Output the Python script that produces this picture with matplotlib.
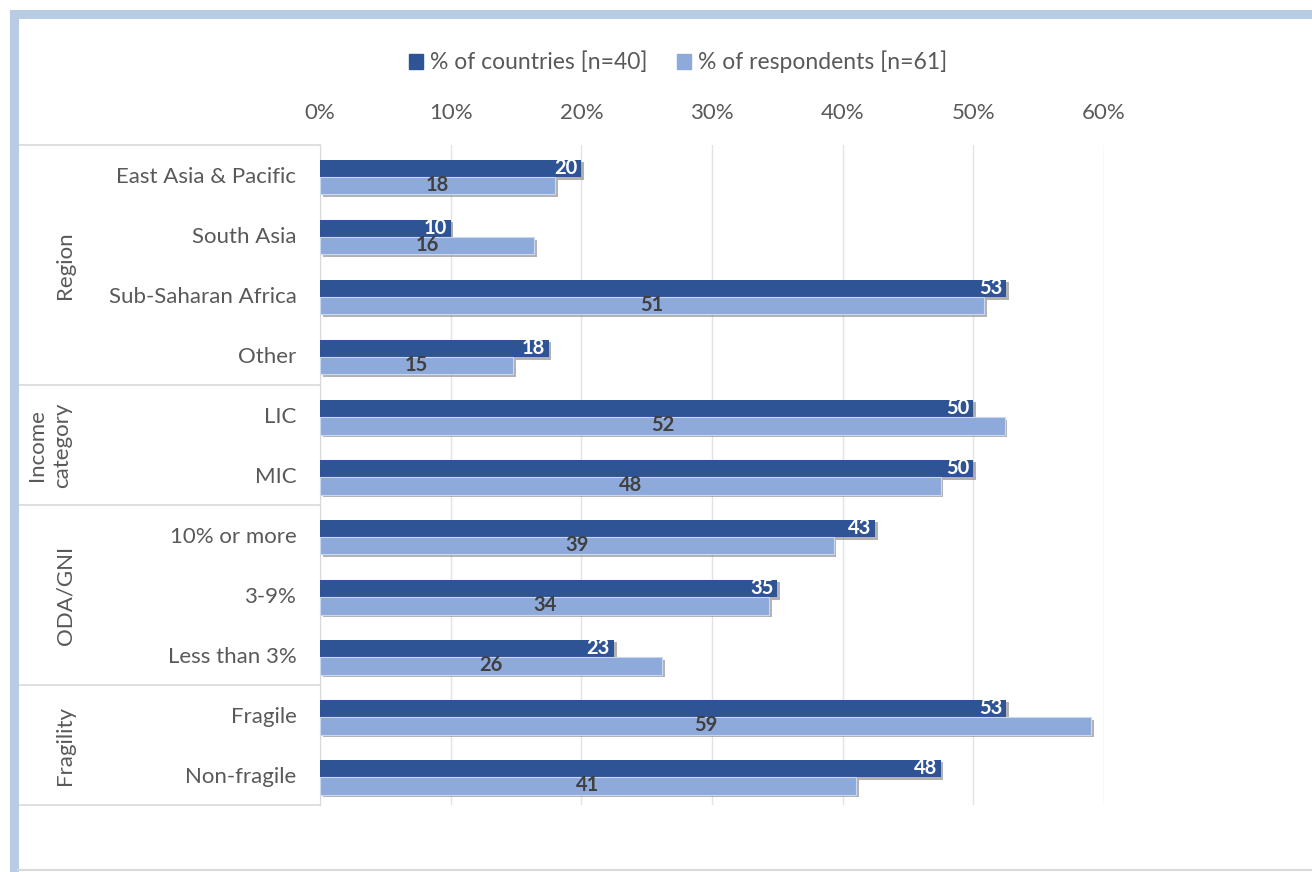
import matplotlib.pyplot as plt
import matplotlib.patheffects as pe
from matplotlib.patches import Rectangle
from matplotlib.lines import Line2D
import matplotlib.transforms as mtransforms
import numpy as np

plt.rcParams['font.family'] = ['Lato', 'DejaVu Sans']

# data (percent)
categories = ['East Asia & Pacific', 'South Asia', 'Sub-Saharan Africa', 'Other',
              'LIC', 'MIC', '10% or more', '3-9%', 'Less than 3%', 'Fragile', 'Non-fragile']
countries = [20.0, 10.0, 52.5, 17.5, 50.0, 50.0, 42.5, 35.0, 22.5, 52.5, 47.5]
respondents = [18.0, 16.4, 50.8, 14.8, 52.4, 47.5, 39.3, 34.4, 26.2, 59.0, 41.0]
groups = ['Region', 'Income\ncategory', 'ODA/GNI', 'Fragility']
group_sizes = [4, 2, 3, 2]
series_names = ['% of countries [n=40]', '% of respondents [n=61]']
xticks = [0, 10, 20, 30, 40, 50, 60]

dark = '#2f5496'
light = '#8eaadb'
grey_txt = '#595959'
line_c = '#d9d9d9'

W, H = 1312, 872
fig = plt.figure(figsize=(W / 100, H / 100), dpi=100)
ax = fig.add_axes([320 / W, 1 - 805 / H, 784 / W, 660 / H])

y = np.arange(len(categories))
shadow = [pe.SimplePatchShadow(offset=(2, -2), shadow_rgbFace='#7f7f7f', alpha=0.6), pe.Normal()]
b1 = ax.barh(y - 0.11, countries, height=0.29, color=dark, zorder=3)
b2 = ax.barh(y + 0.18, respondents, height=0.29, color=light, edgecolor='#c9d7ef', lw=0.8, zorder=3)
for b in list(b1) + list(b2):
    b.set_path_effects(shadow)

for yi, v in zip(y, countries):
    ax.text(v - 0.3, yi - 0.12, str(int(v + 0.5)), ha='right', va='center',
            color='white', fontsize=14.5, fontweight='bold', zorder=4)
for yi, v in zip(y, respondents):
    ax.text(v / 2, yi + 0.17, str(int(v + 0.5)), ha='center', va='center',
            color='#404040', fontsize=14.5, fontweight='bold', zorder=4)

ax.set_xlim(0, 60)
ax.set_ylim(len(categories) - 0.5, -0.5)
ax.xaxis.tick_top()
ax.set_xticks(xticks)
ax.set_xticklabels([f'{t}%' for t in xticks])
ax.set_yticks(y)
ax.set_yticklabels(categories)
ax.tick_params(axis='both', length=0, labelsize=16, colors=grey_txt)
ax.tick_params(axis='x', pad=16)
ax.tick_params(axis='y', pad=17)
ax.grid(axis='x', color='#e3e3e3', lw=1, zorder=0)
for s in ['top', 'right', 'bottom']:
    ax.spines[s].set_visible(False)
ax.spines['left'].set_color(line_c)

# group table on the left
trans = mtransforms.blended_transform_factory(ax.transAxes, ax.transData)
x0 = (18 - 320) / 784
bounds = np.concatenate([[0], np.cumsum(group_sizes)]) - 0.5
for yb in bounds:
    ax.add_line(Line2D([x0, 0], [yb, yb], transform=trans, color=line_c, lw=1.2, clip_on=False))
for g, lo, hi in zip(groups, bounds[:-1], bounds[1:]):
    xg = -0.325 if '\n' not in g else -0.345
    ax.text(xg, (lo + hi) / 2, g, transform=trans, rotation=90, ha='center', va='center',
            fontsize=16, color=grey_txt, linespacing=1.35, multialignment='center')

# legend
handles = [Rectangle((0, 0), 1, 1, color=dark), Rectangle((0, 0), 1, 1, color=light)]
fig.legend(handles, series_names, loc='center', bbox_to_anchor=(0.517, 1 - 62 / H), ncol=2,
           frameon=False, fontsize=16.5, labelcolor=grey_txt, handlelength=0.6, handleheight=0.6,
           handletextpad=0.3, columnspacing=1.3)

# outer frame
fig.patches.append(Rectangle((14 / W, -0.2), 2, 1.2 - 14 / H, transform=fig.transFigure,
                             fill=False, ec='#b8cce4', lw=6.5))
fig.lines.append(Line2D([18 / W, 1], [1 - 870 / H] * 2, transform=fig.transFigure, color=line_c, lw=1.5))

fig.savefig('out.png', dpi=100)
